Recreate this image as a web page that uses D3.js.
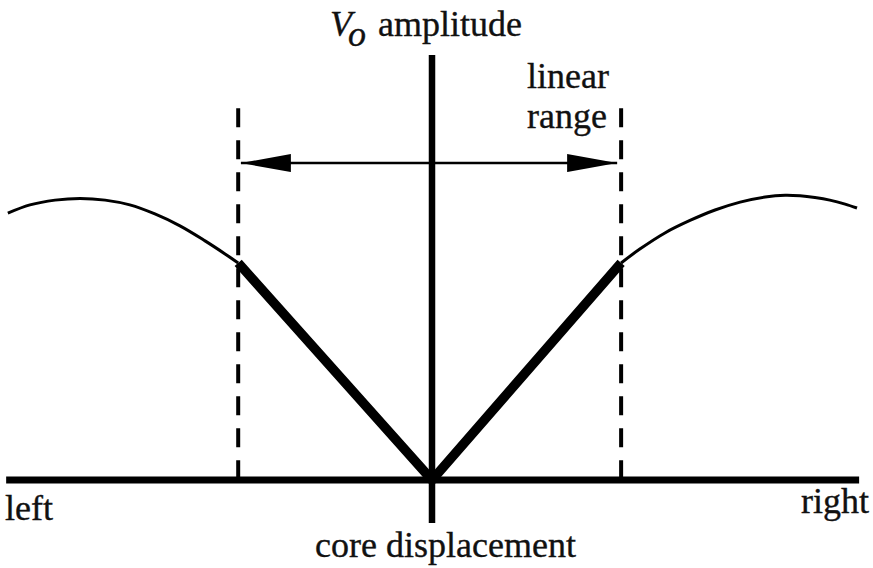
<!DOCTYPE html>
<html>
<head>
<meta charset="utf-8">
<script src="https://cdn.jsdelivr.net/npm/d3@7"></script>
<style>
  html, body { margin: 0; padding: 0; background: #fff; }
  svg { display: block; }
  text { font-family: "Liberation Serif", "Times New Roman", serif; fill: #111; stroke: #111; stroke-width: 0.35px; }
</style>
</head>
<body>
<svg id="chart" width="873" height="568"></svg>
<script>
// ---- data (displacement: -1 = far left, +1 = far right; amplitude normalised) ----
const leftCurve = [
  [-0.998, 0.943], [-0.946, 0.972], [-0.887, 0.989], [-0.828, 0.995], [-0.769, 0.989],
  [-0.711, 0.972], [-0.652, 0.940], [-0.593, 0.898], [-0.534, 0.845], [-0.487, 0.799], [-0.456, 0.767]
];
const rightCurve = [
  [0.445, 0.767], [0.489, 0.816], [0.548, 0.873], [0.607, 0.917], [0.666, 0.954],
  [0.725, 0.982], [0.784, 1.000], [0.831, 1.006], [0.866, 1.004], [0.901, 0.998],
  [0.936, 0.989], [0.972, 0.975], [1.000, 0.961]
];
const linearPart = [[-0.456, 0.767], [0.0, 0.0], [0.445, 0.767]];
const linearRange = [-0.456, 0.445];
const dashTop = 1.314;
const arrowLevel = 1.12;
const arrowEnds = [-0.452, 0.438];
const xAxisExtent = [-1.002, 1.005];
const yAxisExtent = [-0.152, 1.502];
const sideLabels = ["left", "right"];
const axisTitleX = "core displacement";
const axisTitleY = "amplitude";
const rangeLabel = ["linear", "range"];

const svg = d3.select("#chart");
const x = d3.scaleLinear().domain([-1, 1]).range([7, 857]);
const y = d3.scaleLinear().domain([0, 1]).range([480, 197]);

// arrow markers
const defs = svg.append("defs");
defs.append("marker").attr("id", "arrEnd")
  .attr("markerUnits", "userSpaceOnUse")
  .attr("viewBox", "0 0 50 18").attr("refX", 50).attr("refY", 9)
  .attr("markerWidth", 50).attr("markerHeight", 18).attr("orient", "auto")
  .append("path").attr("d", "M0,0 L50,9 L0,18 Z").attr("fill", "#000");
defs.append("marker").attr("id", "arrStart")
  .attr("markerUnits", "userSpaceOnUse")
  .attr("viewBox", "0 0 50 18").attr("refX", 0).attr("refY", 9)
  .attr("markerWidth", 50).attr("markerHeight", 18).attr("orient", "auto")
  .append("path").attr("d", "M50,0 L0,9 L50,18 Z").attr("fill", "#000");

const line = d3.line().x(d => x(d[0])).y(d => y(d[1]));
const smooth = d3.line().x(d => x(d[0])).y(d => y(d[1])).curve(d3.curveCatmullRom.alpha(0.5));

// dashed linear-range limits
svg.selectAll(".limit").data(linearRange).enter().append("line")
  .attr("class", "limit")
  .attr("x1", d => x(d)).attr("x2", d => x(d))
  .attr("y1", y(dashTop)).attr("y2", y(0))
  .attr("stroke", "#000").attr("stroke-width", 4)
  .attr("stroke-dasharray", "19,13");

// double-headed arrow
svg.append("line")
  .attr("x1", x(arrowEnds[0]) + 1).attr("x2", x(arrowEnds[1]) - 1)
  .attr("y1", y(arrowLevel)).attr("y2", y(arrowLevel))
  .attr("stroke", "#000").attr("stroke-width", 2.5)
  .attr("marker-start", "url(#arrStart)").attr("marker-end", "url(#arrEnd)");

// axes
svg.append("line")
  .attr("x1", x(xAxisExtent[0])).attr("x2", x(xAxisExtent[1]))
  .attr("y1", y(0)).attr("y2", y(0))
  .attr("stroke", "#000").attr("stroke-width", 7);
svg.append("line")
  .attr("x1", x(0)).attr("x2", x(0))
  .attr("y1", y(yAxisExtent[1])).attr("y2", y(yAxisExtent[0]))
  .attr("stroke", "#000").attr("stroke-width", 6.5);

// curves
[leftCurve, rightCurve].forEach(c => {
  svg.append("path").attr("d", smooth(c))
    .attr("fill", "none").attr("stroke", "#000").attr("stroke-width", 3);
});
svg.append("path").attr("d", line(linearPart))
  .attr("fill", "none").attr("stroke", "#000").attr("stroke-width", 9.5)
  .attr("stroke-linejoin", "miter");

// text
const fs = 36;
const vt = svg.append("text").attr("x", 330).attr("y", 36).attr("font-size", fs);
vt.append("tspan").attr("font-style", "italic").text("V");
vt.append("tspan").attr("font-style", "italic").attr("dy", 10).text("o");
vt.append("tspan").attr("x", 378).attr("dy", -10).text(axisTitleY);

svg.append("text").attr("x", 527).attr("y", 88).attr("font-size", fs).text(rangeLabel[0]);
svg.append("text").attr("x", 527).attr("y", 128).attr("font-size", fs).text(rangeLabel[1]);

svg.append("text").attr("x", 5).attr("y", 520).attr("font-size", fs).text(sideLabels[0]);
svg.append("text").attr("x", 801).attr("y", 513).attr("font-size", fs).text(sideLabels[1]);
svg.append("text").attr("x", 315).attr("y", 557).attr("font-size", fs).text(axisTitleX);
</script>
</body>
</html>
